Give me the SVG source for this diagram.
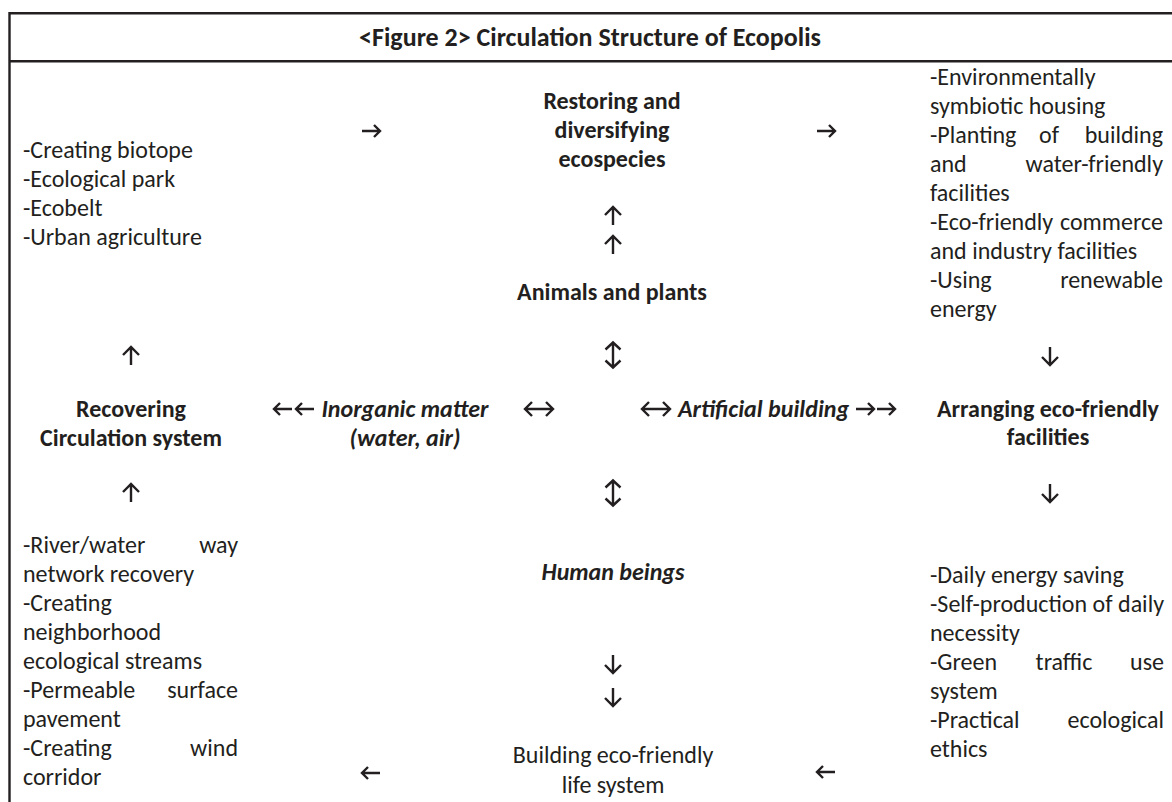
<svg xmlns="http://www.w3.org/2000/svg" xmlns:xlink="http://www.w3.org/1999/xlink" width="1172" height="802" viewBox="0 0 1172 802">
<style>
.t{font-family:Carlito,Lato,"Open Sans",sans-serif;font-size:24px;fill:#231f20}
.ti{font-size:26px}
.b{font-weight:bold}
.bi{font-weight:bold;font-style:italic}
.c{text-anchor:middle}
.e{text-anchor:end}
.fr{stroke:#231f20;stroke-width:2.4;fill:none}
.ar{fill:none;stroke:#231f20;stroke-width:2.4;stroke-linecap:butt;stroke-linejoin:miter}
</style>
<defs>
<path id="aR" d="M-9,0 H8.5 M3,-6 L9,0 L3,6"/>
<path id="aU" d="M0,9 V-8.5 M-8,-1 L0,-9 L8,-1"/>
<path id="aV" d="M0,-12.5 V12.5 M-7.5,-5.5 L0,-12.5 L7.5,-5.5 M-7.5,5.5 L0,12.5 L7.5,5.5"/>
<path id="aH" d="M-14,0 H14 M-7,-7 L-14,0 L-7,7 M7,-7 L14,0 L7,7"/>
</defs>
<rect width="1172" height="802" fill="#fff"/>
<g id="frame">
<path class="fr" d="M9.5,802 V13.3 H1172 M9.5,61.3 H1172"/>
<text class="t ti b c" x="590" y="46">&lt;Figure 2&gt; Circulation Structure of Ecopolis</text>
</g>
<g id="connectors" class="ar">
<use xlink:href="#aR" transform="translate(371,131)"/>
<use xlink:href="#aR" transform="translate(826,131)"/>
<use xlink:href="#aU" transform="translate(613,216)"/>
<use xlink:href="#aU" transform="translate(613,245)"/>
<use xlink:href="#aV" transform="translate(613,355)"/>
<use xlink:href="#aV" transform="translate(613,493)"/>
<use xlink:href="#aU" transform="translate(613,664) rotate(180)"/>
<use xlink:href="#aU" transform="translate(613,697) rotate(180)"/>
<use xlink:href="#aU" transform="translate(131,356)"/>
<use xlink:href="#aU" transform="translate(131,493)"/>
<use xlink:href="#aU" transform="translate(1050,356) rotate(180)"/>
<use xlink:href="#aU" transform="translate(1050,493) rotate(180)"/>
<use xlink:href="#aR" transform="translate(371,773) rotate(180)"/>
<use xlink:href="#aR" transform="translate(826,772) rotate(180)"/>
<use xlink:href="#aR" transform="translate(283,409) rotate(180)"/>
<use xlink:href="#aR" transform="translate(305,409) rotate(180)"/>
<use xlink:href="#aH" transform="translate(539,409)"/>
<use xlink:href="#aH" transform="translate(656,409)"/>
<use xlink:href="#aR" transform="translate(865,409)"/>
<use xlink:href="#aR" transform="translate(886,409)"/>
</g>
<g id="biotope" class="t">
<text x="23" y="158">-Creating biotope</text>
<text x="23" y="187">-Ecological park</text>
<text x="23" y="216">-Ecobelt</text>
<text x="23" y="245">-Urban agriculture</text>
</g>
<g id="restoring" class="t b c">
<text x="612" y="109">Restoring and</text>
<text x="612" y="138">diversifying</text>
<text x="612" y="167">ecospecies</text>
</g>
<g id="housing" class="t">
<text x="930" y="85">-Environmentally</text>
<text x="930" y="114">symbiotic housing</text>
<text x="930" y="143">-Planting</text><text class="c" x="1049" y="143">of</text><text class="e" x="1163" y="143">building</text>
<text x="930" y="172">and</text><text class="e" x="1163" y="172">water-friendly</text>
<text x="930" y="201">facilities</text>
<text x="930" y="230">-Eco-friendly</text><text class="e" x="1163" y="230">commerce</text>
<text x="930" y="259">and industry facilities</text>
<text x="930" y="288">-Using</text><text class="e" x="1163" y="288">renewable</text>
<text x="930" y="317">energy</text>
</g>
<g id="animals" class="t b c">
<text x="612" y="300">Animals and plants</text>
</g>
<g id="recovering" class="t b c">
<text x="131" y="417">Recovering</text>
<text x="131" y="446">Circulation system</text>
</g>
<g id="inorganic" class="t bi c">
<text x="405" y="417">Inorganic matter</text>
<text x="405" y="446">(water, air)</text>
</g>
<g id="artificial" class="t bi">
<text x="678" y="417">Artificial building</text>
</g>
<g id="arranging" class="t b c">
<text x="1048" y="417">Arranging eco-friendly</text>
<text x="1048" y="445">facilities</text>
</g>
<g id="humans" class="t bi c">
<text x="613" y="580">Human beings</text>
</g>
<g id="water" class="t">
<text x="23" y="553">-River/water</text><text class="e" x="238" y="553">way</text>
<text x="23" y="582">network recovery</text>
<text x="23" y="611">-Creating</text>
<text x="23" y="640">neighborhood</text>
<text x="23" y="669">ecological streams</text>
<text x="23" y="698">-Permeable</text><text class="e" x="238" y="698">surface</text>
<text x="23" y="727">pavement</text>
<text x="23" y="756">-Creating</text><text class="e" x="238" y="756">wind</text>
<text x="23" y="785">corridor</text>
</g>
<g id="lifesystem" class="t c">
<text x="613" y="763">Building eco-friendly</text>
<text x="613" y="793">life system</text>
</g>
<g id="daily" class="t">
<text x="930" y="583">-Daily energy saving</text>
<text x="930" y="612">-Self-production of</text><text class="e" x="1164" y="612">daily</text>
<text x="930" y="641">necessity</text>
<text x="930" y="670">-Green</text><text class="c" x="1064" y="670">traffic</text><text class="e" x="1164" y="670">use</text>
<text x="930" y="699">system</text>
<text x="930" y="728">-Practical</text><text class="e" x="1164" y="728">ecological</text>
<text x="930" y="757">ethics</text>
</g>
</svg>
